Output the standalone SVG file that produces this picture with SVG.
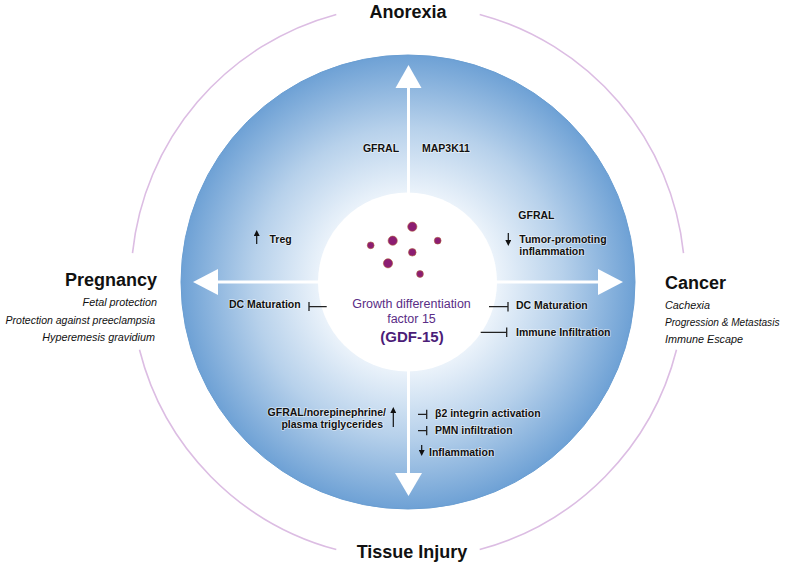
<svg xmlns="http://www.w3.org/2000/svg" width="785" height="566" viewBox="0 0 785 566">
<defs>
<radialGradient id="disk" cx="408" cy="282" r="227" gradientUnits="userSpaceOnUse">
<stop offset="0.38" stop-color="#edf4fb"/>
<stop offset="0.68" stop-color="#b7d1eb"/>
<stop offset="1" stop-color="#6ea1d5"/>
</radialGradient>
<marker id="ah" viewBox="0 0 6 6" refX="3" refY="3" markerWidth="6" markerHeight="6" markerUnits="userSpaceOnUse" orient="auto">
<path d="M0,0 L6,3 L0,6 z" fill="#111"/>
</marker>
<style>
.arc{fill:none;stroke:#dcbde3;stroke-width:1.6}
.title{font-family:"Liberation Sans",Arial,sans-serif;font-weight:bold;font-size:18px;fill:#111}
.sub{font-family:"Liberation Sans",Arial,sans-serif;font-style:italic;font-size:10.8px;fill:#111}
.lbl{font-family:"Liberation Sans",Arial,sans-serif;font-weight:bold;font-size:10.5px;fill:#111;stroke:#fff;stroke-width:1.6;stroke-opacity:0.55;paint-order:stroke;stroke-linejoin:round}
.gdf{font-family:"Liberation Sans",Arial,sans-serif;font-size:12.5px;fill:#5a2d86}
.gdfb{font-family:"Liberation Sans",Arial,sans-serif;font-size:15px;font-weight:bold;fill:#4b1d78}
.wline{stroke:#fff;stroke-width:3;fill:none}
.inh{stroke:#222;stroke-width:1.3;fill:none}
.up{stroke:#111;stroke-width:1.2;fill:none}
.dot{fill:#8c1d72;stroke:#b0603a;stroke-width:0.6}
</style>
</defs>

<g id="outer-arcs">
<path class="arc" d="M132.5,253.1 A277,277 0 0 1 336.3,14.4"/>
<path class="arc" d="M479.7,14.4 A277,277 0 0 1 683.5,253.1"/>
<path class="arc" d="M676.5,349.8 A277,277 0 0 1 479.7,549.6"/>
<path class="arc" d="M336.3,549.6 A277,277 0 0 1 139.5,349.8"/>
</g>

<g id="disk-node">
<circle cx="408" cy="282" r="227" fill="url(#disk)" stroke="#6a9ed2" stroke-width="1"/>
</g>

<g id="connectors">
<line class="wline" x1="408.5" y1="86" x2="408.5" y2="476"/>
<line class="wline" x1="216" y1="282" x2="600" y2="282"/>
<path d="M408.5,65 L421.5,88 L395.5,88 z" fill="#fff"/>
<path d="M408.5,496 L422,473 L395,473 z" fill="#fff"/>
<path d="M193,282 L218,269 L218,295 z" fill="#fff"/>
<path d="M623,282 L598,269 L598,295 z" fill="#fff"/>
</g>

<g id="gdf15-node">
<circle cx="407.5" cy="282" r="89.5" fill="#fff"/>
<circle class="dot" cx="412.3" cy="226.7" r="4.6"/>
<circle class="dot" cx="392.7" cy="240.7" r="4.6"/>
<circle class="dot" cx="370.7" cy="245.3" r="3.4"/>
<circle class="dot" cx="437.7" cy="240.7" r="3.4"/>
<circle class="dot" cx="412.3" cy="252.3" r="3.8"/>
<circle class="dot" cx="388" cy="263.3" r="4.6"/>
<circle class="dot" cx="420" cy="274" r="3.4"/>
<text class="gdf" x="411.5" y="308" text-anchor="middle">Growth differentiation</text>
<text class="gdf" x="411.5" y="323" text-anchor="middle">factor 15</text>
<text class="gdfb" x="412" y="342" text-anchor="middle">(GDF-15)</text>
</g>

<g id="anorexia-node">
<text class="title" x="408" y="18" text-anchor="middle">Anorexia</text>
<text class="lbl" x="381" y="152" text-anchor="middle">GFRAL</text>
<text class="lbl" x="422" y="152">MAP3K11</text>
</g>

<g id="tissue-injury-node">
<text class="title" x="412" y="558" text-anchor="middle">Tissue Injury</text>
<text class="lbl" x="386" y="416" text-anchor="end">GFRAL/norepinephrine/</text>
<text class="lbl" x="383" y="428" text-anchor="end">plasma triglycerides</text>
<line class="up" x1="393.3" y1="427" x2="393.3" y2="410" marker-end="url(#ah)"/>
<path class="inh" d="M418,414.3 H426.7 M426.7,409.7 V418.9"/>
<text class="lbl" x="435" y="417">β2 integrin activation</text>
<path class="inh" d="M418,430.7 H426.7 M426.7,426.1 V435.3"/>
<text class="lbl" x="435" y="433.5">PMN infiltration</text>
<line class="up" x1="421.7" y1="445" x2="421.7" y2="453" marker-end="url(#ah)"/>
<text class="lbl" x="429" y="455.5">Inflammation</text>
</g>

<g id="pregnancy-node">
<text class="title" x="157" y="286" text-anchor="end">Pregnancy</text>
<text class="sub" x="157" y="306" text-anchor="end">Fetal protection</text>
<text class="sub" x="155" y="324" text-anchor="end" style="font-size:10.5px">Protection against preeclampsia</text>
<text class="sub" x="155" y="341" text-anchor="end">Hyperemesis gravidium</text>
<line class="up" x1="256.7" y1="244" x2="256.7" y2="233" marker-end="url(#ah)"/>
<text class="lbl" x="269.5" y="242.5">Treg</text>
<text class="lbl" x="300.7" y="308" text-anchor="end">DC Maturation</text>
<path class="inh" d="M309,302 V311 M309,306.7 H326.7"/>
</g>

<g id="cancer-node">
<text class="title" x="665" y="289">Cancer</text>
<text class="sub" x="665" y="309">Cachexia</text>
<text class="sub" x="665" y="326" style="font-size:10.1px">Progression &amp; Metastasis</text>
<text class="sub" x="665" y="343">Immune Escape</text>
<text class="lbl" x="518.3" y="218.5">GFRAL</text>
<line class="up" x1="508.3" y1="233" x2="508.3" y2="243" marker-end="url(#ah)"/>
<text class="lbl" x="519.3" y="242.7">Tumor-promoting</text>
<text class="lbl" x="519.3" y="254.5">inflammation</text>
<path class="inh" d="M489,306.7 H508 M508,302 V311.4"/>
<text class="lbl" x="516" y="308.5">DC Maturation</text>
<path class="inh" d="M480.7,332.3 H506.7 M506.7,327.6 V337"/>
<text class="lbl" x="516" y="335.5">Immune Infiltration</text>
</g>
</svg>
